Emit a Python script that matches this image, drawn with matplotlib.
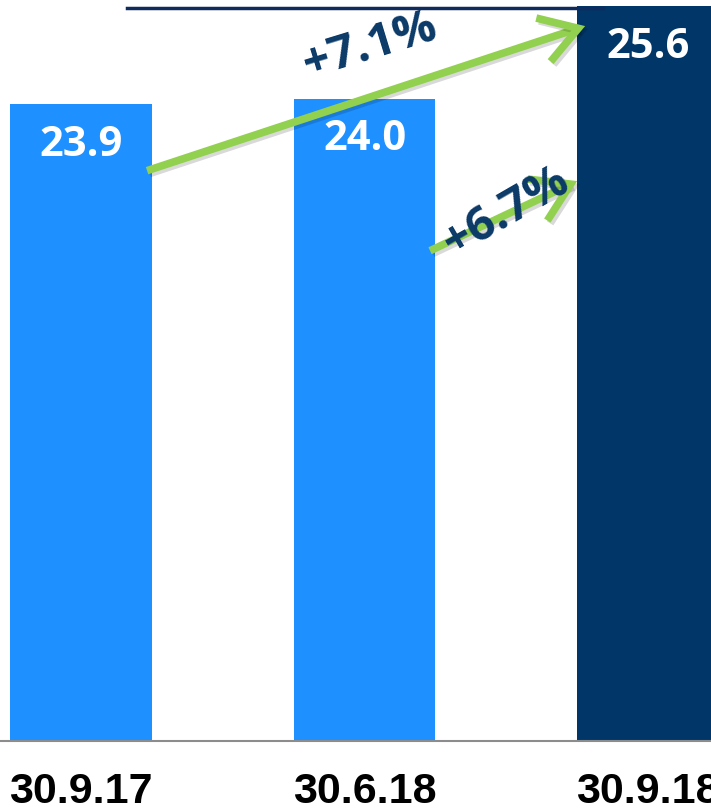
#!/usr/bin/env python3
"""Bar chart: three dates, with growth arrows between bars."""

import matplotlib
matplotlib.use("Agg")
import matplotlib.pyplot as plt
import matplotlib.patheffects as pe
from matplotlib.patches import FancyArrowPatch
from matplotlib.lines import Line2D

# ── data ──────────────────────────────────────────────────────────────────
dates = ["30.9.17", "30.6.18", "30.9.18"]
values = [23.9, 24.0, 25.6]
value_labels = ["23.9", "24.0", "25.6"]
growth_labels = ["+7.1%", "+6.7%"]

LIGHT = "#1E90FF"
DARK = "#003768"
GREEN = "#92D050"
NAVY = "#0B3A68"

fig = plt.figure(figsize=(7.11, 8.12), dpi=100)
ax = fig.add_axes([0, 1 - 742 / 812, 1, 742 / 812])

x = list(range(len(values)))
colours = [LIGHT, LIGHT, DARK]
ax.bar(x, values, width=0.5, color=colours, zorder=2)

# truncated value axis, as in the source slide
ax.set_ylim(12.85, 25.73)
ax.set_xlim(-0.2857, 2.222)
ax.axis("off")

# baseline
ax.axhline(12.85, color="#8c8c8c", linewidth=1.5, zorder=3, clip_on=False)

# value labels inside the bars
for xi, v, lab in zip(x, values, value_labels):
    ax.annotate(lab, (xi, v), xytext=(0, -29), textcoords="offset points",
                ha="center", va="center", color="white", fontsize=30,
                fontweight="bold", family="Open Sans", zorder=4)

# date labels under the axis
for xi, d in zip(x, dates):
    ax.annotate(d, (xi, 12.85), xytext=(0, -44), textcoords="offset points",
                ha="center", va="baseline", color="black", fontsize=31,
                fontweight="bold", family="Liberation Sans",
                annotation_clip=False)

# ── growth arrows ──
arrows = [
    ((0.233, values[0] - 1.15), (1.778, values[2] - 0.34)),
    ((1.231, values[1] - 2.64), (1.75, values[2] - 3.03)),
]
for (p0, p1) in arrows:
    arr = FancyArrowPatch(p0, p1, arrowstyle="->,head_length=1.2,head_width=0.75",
                          mutation_scale=22, color=GREEN, linewidth=5.5,
                          capstyle="butt", joinstyle="miter", zorder=5,
                          shrinkA=0, shrinkB=0)
    arr.set_path_effects([pe.SimpleLineShadow(offset=(2, -2), alpha=0.15,
                                              shadow_color="black"),
                          pe.Normal()])
    ax.add_patch(arr)

ax.text(1.02, values[2] - 0.66, growth_labels[0], rotation=17, ha="center",
        va="center", color=NAVY, fontsize=34, fontweight="bold",
        family="Open Sans", zorder=6)
ax.text(1.5, values[2] - 3.55, growth_labels[1], rotation=30, ha="center",
        va="center", color=NAVY, fontsize=34, fontweight="bold",
        family="Open Sans", zorder=6)

# cropped slide-title underline
fig.add_artist(Line2D([127 / 711, 603 / 711], [1 - 9 / 812, 1 - 9 / 812],
                      color="#0F2A5C", linewidth=2.5))

fig.savefig("out.png", dpi=100)
